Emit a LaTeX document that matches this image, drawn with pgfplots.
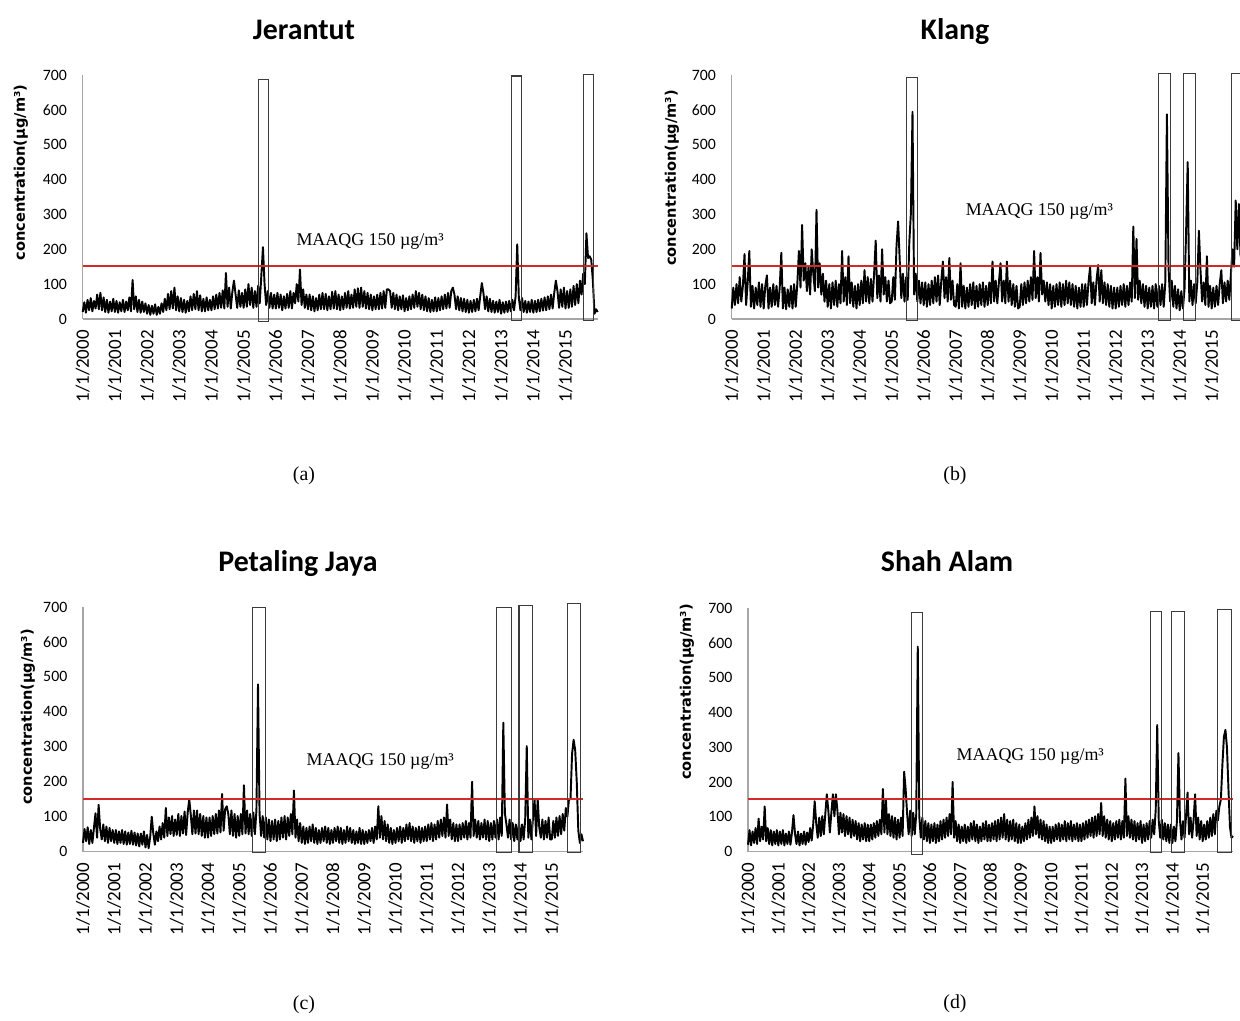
\documentclass[border=0pt]{standalone}
\usepackage{pgfplots}
\usepackage{pgfplotstable}
\pgfplotsset{compat=1.18}
\usepackage{fontspec}
\setmainfont{Liberation Serif}
\newfontfamily\calfont{Carlito}
\newfontfamily\dvs{DejaVu Sans}

\definecolor{limitred}{RGB}{215,40,40}
\definecolor{boxgray}{RGB}{60,60,60}

\pgfplotstableread[row sep=\\]{y\\
20\\48\\18\\55\\25\\60\\22\\52\\30\\70\\28\\75\\25\\62\\20\\55\\18\\50\\22\\58\\
20\\52\\18\\48\\22\\55\\20\\50\\25\\62\\22\\112\\28\\65\\20\\55\\18\\50\\20\\45\\
15\\40\\12\\38\\15\\42\\12\\35\\15\\45\\20\\58\\25\\72\\28\\80\\30\\90\\25\\65\\
22\\60\\20\\55\\18\\52\\22\\65\\25\\72\\28\\80\\25\\68\\22\\58\\22\\62\\25\\55\\
25\\65\\28\\70\\30\\75\\32\\82\\30\\132\\35\\90\\30\\78\\110\\70\\32\\82\\35\\75\\
32\\85\\35\\100\\40\\90\\32\\80\\35\\95\\45\\125\\206\\100\\40\\80\\32\\75\\30\\70\\
30\\75\\32\\70\\25\\65\\30\\72\\32\\80\\30\\75\\45\\100\\50\\142\\40\\85\\32\\70\\
28\\70\\25\\65\\22\\60\\25\\70\\28\\75\\28\\72\\25\\65\\28\\78\\30\\80\\28\\70\\
25\\65\\28\\75\\32\\80\\30\\70\\32\\85\\35\\88\\32\\90\\35\\80\\30\\75\\28\\70\\
25\\65\\28\\70\\28\\75\\30\\80\\32\\85\\85\\80\\32\\75\\28\\70\\25\\65\\28\\68\\
22\\60\\25\\65\\28\\70\\32\\80\\35\\75\\28\\70\\25\\65\\22\\60\\20\\55\\22\\62\\
22\\60\\25\\65\\28\\70\\30\\75\\32\\80\\90\\70\\28\\65\\25\\60\\22\\58\\20\\55\\
18\\52\\20\\55\\22\\58\\25\\65\\103\\75\\28\\65\\22\\58\\20\\52\\18\\50\\20\\55\\
15\\48\\18\\50\\20\\52\\22\\55\\25\\65\\214\\60\\25\\60\\20\\52\\18\\50\\20\\55\\
18\\52\\20\\55\\22\\58\\24\\62\\25\\65\\28\\70\\30\\75\\110\\80\\32\\85\\35\\90\\
30\\80\\32\\85\\35\\95\\40\\100\\45\\110\\70\\130\\100\\246\\175\\180\\170\\110\\15\\28\\
20\\
}\jerantut

\pgfplotstableread[row sep=\\]{y\\
30\\90\\40\\100\\45\\120\\50\\95\\186\\40\\105\\195\\35\\95\\30\\90\\40\\105\\35\\100\\
30\\95\\125\\30\\90\\35\\100\\40\\95\\35\\90\\190\\30\\90\\28\\85\\35\\95\\30\\100\\
35\\100\\195\\90\\270\\110\\160\\80\\150\\70\\200\\130\\80\\313\\90\\160\\70\\130\\50\\110\\
35\\100\\30\\105\\40\\110\\35\\100\\45\\195\\50\\120\\40\\180\\45\\105\\35\\95\\30\\100\\
40\\110\\45\\140\\50\\120\\45\\115\\50\\130\\225\\60\\125\\50\\200\\70\\120\\50\\110\\45\\
50\\120\\55\\210\\280\\170\\60\\130\\50\\120\\55\\220\\305\\594\\70\\130\\50\\110\\45\\105\\
40\\105\\35\\100\\40\\110\\45\\120\\50\\125\\40\\110\\165\\60\\120\\50\\175\\55\\110\\40\\
35\\100\\30\\160\\35\\95\\30\\90\\35\\100\\40\\105\\30\\95\\35\\100\\40\\105\\35\\95\\
40\\105\\45\\165\\50\\110\\45\\105\\160\\50\\110\\45\\165\\50\\110\\40\\100\\35\\95\\30\\
35\\100\\40\\105\\45\\110\\50\\120\\55\\195\\60\\120\\50\\190\\70\\110\\50\\105\\40\\100\\
30\\95\\35\\100\\40\\105\\35\\100\\40\\110\\45\\105\\40\\100\\35\\95\\30\\90\\35\\100\\
35\\100\\40\\105\\150\\45\\105\\40\\110\\155\\50\\140\\45\\105\\40\\100\\35\\95\\30\\90\\
30\\90\\35\\95\\40\\100\\35\\95\\40\\105\\50\\265\\60\\230\\55\\110\\45\\100\\35\\95\\
30\\90\\35\\95\\30\\100\\35\\95\\40\\100\\35\\105\\587\\150\\50\\110\\35\\95\\30\\85\\
25\\80\\30\\85\\250\\450\\50\\110\\40\\100\\45\\105\\253\\140\\50\\105\\40\\180\\35\\95\\
30\\90\\35\\95\\40\\100\\140\\45\\105\\50\\110\\55\\130\\200\\150\\340\\200\\330\\180\\320\\
250\\
}\klang

\pgfplotstableread[row sep=\\]{y\\
25\\65\\30\\70\\22\\62\\25\\68\\110\\40\\134\\65\\35\\78\\30\\72\\25\\68\\30\\62\\
25\\62\\22\\58\\25\\62\\22\\58\\20\\55\\22\\60\\20\\55\\18\\52\\15\\52\\20\\58\\
12\\48\\10\\42\\100\\52\\20\\58\\30\\72\\35\\82\\40\\125\\45\\98\\50\\102\\45\\92\\
48\\108\\45\\102\\52\\115\\48\\112\\150\\105\\50\\118\\52\\118\\50\\108\\45\\102\\40\\98\\
40\\98\\45\\102\\50\\108\\52\\118\\55\\165\\60\\122\\130\\108\\50\\118\\45\\108\\40\\102\\
45\\108\\50\\190\\52\\118\\50\\108\\45\\112\\50\\118\\479\\108\\45\\102\\40\\98\\35\\92\\
30\\88\\35\\92\\30\\88\\35\\98\\40\\102\\35\\98\\45\\108\\50\\175\\40\\92\\30\\82\\
25\\72\\22\\68\\25\\72\\30\\78\\25\\68\\22\\62\\25\\68\\30\\72\\25\\68\\22\\62\\
25\\68\\30\\72\\25\\68\\22\\62\\25\\72\\30\\68\\25\\62\\22\\58\\25\\68\\22\\62\\
22\\58\\25\\62\\30\\68\\25\\72\\35\\130\\40\\102\\35\\88\\30\\78\\25\\68\\22\\62\\
25\\68\\30\\72\\25\\68\\30\\78\\35\\82\\30\\72\\25\\68\\30\\72\\25\\68\\30\\72\\
30\\78\\35\\82\\30\\78\\35\\88\\40\\92\\45\\98\\40\\135\\45\\92\\35\\82\\30\\78\\
30\\78\\35\\82\\40\\88\\35\\82\\40\\200\\45\\92\\40\\88\\35\\82\\40\\92\\35\\88\\
30\\82\\35\\88\\40\\92\\35\\98\\45\\369\\110\\78\\40\\92\\35\\82\\30\\78\\35\\82\\
30\\78\\35\\92\\302\\40\\92\\35\\98\\150\\45\\150\\70\\40\\92\\35\\88\\40\\98\\35\\
35\\88\\40\\98\\45\\102\\50\\108\\60\\125\\100\\150\\150\\280\\320\\290\\200\\60\\25\\50\\
30\\
}\petaling

\pgfplotstableread[row sep=\\]{y\\
20\\62\\18\\58\\25\\68\\22\\95\\30\\72\\35\\130\\30\\68\\22\\62\\18\\58\\22\\62\\
18\\58\\22\\62\\18\\52\\22\\58\\20\\55\\105\\52\\22\\58\\18\\52\\22\\58\\20\\55\\
28\\68\\32\\78\\145\\82\\40\\98\\45\\102\\50\\108\\165\\118\\55\\112\\165\\102\\165\\118\\
50\\112\\55\\108\\45\\102\\50\\98\\40\\92\\45\\88\\35\\82\\30\\78\\35\\82\\30\\78\\
30\\78\\35\\82\\40\\88\\45\\92\\50\\180\\55\\150\\50\\108\\45\\102\\40\\98\\35\\92\\
40\\98\\45\\230\\180\\108\\50\\118\\45\\112\\50\\108\\589\\102\\40\\98\\35\\88\\30\\82\\
25\\78\\30\\82\\25\\78\\30\\88\\35\\92\\40\\98\\45\\108\\50\\200\\40\\88\\30\\78\\
25\\72\\30\\78\\25\\72\\30\\82\\35\\88\\30\\78\\25\\72\\30\\82\\35\\88\\30\\78\\
30\\82\\35\\88\\30\\92\\35\\98\\40\\108\\35\\92\\30\\88\\35\\92\\30\\82\\25\\78\\
25\\72\\30\\82\\35\\92\\40\\98\\45\\130\\50\\102\\40\\92\\35\\88\\30\\78\\25\\72\\
25\\72\\30\\78\\35\\82\\30\\78\\35\\88\\30\\82\\35\\88\\30\\78\\35\\82\\30\\78\\
30\\82\\35\\88\\40\\92\\45\\98\\40\\102\\45\\108\\50\\140\\45\\102\\40\\92\\35\\88\\
30\\82\\35\\88\\40\\92\\35\\88\\40\\210\\45\\102\\40\\92\\35\\88\\30\\82\\35\\88\\
25\\78\\30\\82\\35\\88\\40\\92\\50\\120\\364\\88\\40\\92\\35\\82\\30\\78\\25\\78\\
25\\72\\30\\88\\283\\92\\35\\88\\40\\102\\170\\50\\98\\40\\92\\165\\45\\98\\35\\88\\
30\\78\\35\\88\\40\\98\\45\\108\\50\\118\\90\\130\\150\\250\\330\\350\\300\\180\\70\\40\\
45\\
}\shahalam

\pgfplotsset{
  panel/.style={
    scale only axis, anchor=south west, clip=false,
    xmin=2000, xmax=2016, ymin=0, ymax=700,
    axis x line*=bottom, axis y line*=left,
    axis line style={draw=black!35, line width=0.8pt},
    major tick length=0pt,
    ytick={0,100,...,700},
    xtick={2000,...,2015},
    xticklabels={1/1/2000,1/1/2001,1/1/2002,1/1/2003,1/1/2004,1/1/2005,1/1/2006,1/1/2007,
      1/1/2008,1/1/2009,1/1/2010,1/1/2011,1/1/2012,1/1/2013,1/1/2014,1/1/2015},
    xticklabel style={rotate=90, anchor=east, font=\calfont\fontsize{10.8}{12}\selectfont},
    xticklabel shift=0.1cm,
    yticklabel style={font=\calfont\fontsize{9}{10}\selectfont},
    yticklabel shift=0.19cm,
    /pgf/number format/assume math mode=true,
  },
  series/.style={draw=black, line width=1.1pt, line join=round},
  limit/.style={draw=limitred, line width=1.15pt},
}
\tikzset{event/.style={draw=boxgray, line width=0.65pt}}

\begin{document}
\begin{tikzpicture}
\useasboundingbox (0,0) rectangle (24.8,20.42);

% (a) Jerantut
\begin{axis}[panel, at={(1.654cm,14.04cm)}, width=10.3cm, height=4.88cm]
  \addplot[series] table[x expr=2000+\coordindex*0.05, y=y] {\jerantut};
  \addplot[limit] coordinates {(2000,153) (2016,153)};
  \draw[event] (axis cs:2005.45,-6) rectangle (axis cs:2005.78,688);
  \draw[event] (axis cs:2013.31,-4) rectangle (axis cs:2013.64,697);
  \draw[event] (axis cs:2015.55,-4) rectangle (axis cs:2015.88,701);
  \node[anchor=west, font=\fontsize{10.2}{12}\selectfont] at (axis cs:2006.45,222) {MAAQG 150 µg/m³};
\end{axis}

% (b) Klang
\begin{axis}[panel, at={(14.634cm,14.04cm)}, width=10.24cm, height=4.88cm]
  \addplot[series] table[x expr=2000+\coordindex*0.05, y=y] {\klang};
  \addplot[limit] coordinates {(2000,153) (2016,153)};
  \draw[event] (axis cs:2005.45,-5) rectangle (axis cs:2005.81,693);
  \draw[event] (axis cs:2013.35,-5) rectangle (axis cs:2013.72,705);
  \draw[event] (axis cs:2014.11,-5) rectangle (axis cs:2014.48,705);
  \draw[event] (axis cs:2015.63,-5) rectangle (axis cs:2016.3,705);
  \node[anchor=west, font=\fontsize{10.2}{12}\selectfont] at (axis cs:2007.12,308) {MAAQG 150 µg/m³};
\end{axis}

% (c) Petaling Jaya
\begin{axis}[panel, at={(1.66cm,3.386cm)}, width=10cm, height=4.894cm]
  \addplot[series] table[x expr=2000+\coordindex*0.05, y=y] {\petaling};
  \addplot[limit] coordinates {(2000,152) (2016,152)};
  \draw[event] (axis cs:2005.42,-3) rectangle (axis cs:2005.83,698);
  \draw[event] (axis cs:2013.24,-3) rectangle (axis cs:2013.70,698);
  \draw[event] (axis cs:2013.95,-3) rectangle (axis cs:2014.38,704);
  \draw[event] (axis cs:2015.51,-3) rectangle (axis cs:2015.91,711);
  \node[anchor=west, font=\fontsize{10.2}{12}\selectfont] at (axis cs:2006.96,257) {MAAQG 150 µg/m³};
\end{axis}

% (d) Shah Alam
\begin{axis}[panel, at={(14.96cm,3.386cm)}, width=9.7cm, height=4.874cm]
  \addplot[series] table[x expr=2000+\coordindex*0.05, y=y] {\shahalam};
  \addplot[limit] coordinates {(2000,152) (2016,152)};
  \draw[event] (axis cs:2005.38,-7) rectangle (axis cs:2005.77,687);
  \draw[event] (axis cs:2013.27,-3) rectangle (axis cs:2013.65,691);
  \draw[event] (axis cs:2013.98,-3) rectangle (axis cs:2014.40,691);
  \draw[event] (axis cs:2015.49,-3) rectangle (axis cs:2015.96,696);
  \node[anchor=west, font=\fontsize{10.2}{12}\selectfont] at (axis cs:2006.68,273) {MAAQG 150 µg/m³};
\end{axis}

% titles
\begin{scope}[font=\calfont\bfseries\fontsize{17}{20}\selectfont]
  \node[anchor=base] at (6.08,19.62) {Jerantut};
  \node[anchor=base] at (19.1,19.62) {Klang};
  \node[anchor=base] at (5.96,8.98) {Petaling Jaya};
  \node[anchor=base] at (18.94,8.98) {Shah Alam};
\end{scope}

% y labels
\begin{scope}[font=\dvs\bfseries\fontsize{8.3}{10}\selectfont]
  \node[rotate=90] at (0.42,16.97) {concentration(µg/m³)};
  \node[rotate=90] at (13.44,16.86) {concentration(µg/m³)};
  \node[rotate=90] at (0.56,6.08) {concentration(µg/m³)};
  \node[rotate=90] at (13.74,6.58) {concentration(µg/m³)};
\end{scope}

% panel letters
\begin{scope}[font=\fontsize{11.3}{13}\selectfont]
  \node at (6.08,10.9) {(a)};
  \node at (19.1,10.9) {(b)};
  \node at (6.08,0.32) {(c)};
  \node at (19.1,0.34) {(d)};
\end{scope}
\end{tikzpicture}
\end{document}
